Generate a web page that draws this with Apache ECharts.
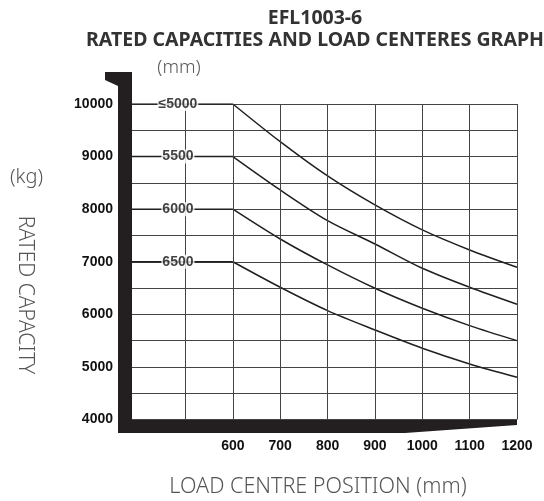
<!DOCTYPE html>
<html>
<head>
<meta charset="utf-8">
<script src="https://cdn.jsdelivr.net/npm/echarts@6/dist/echarts.min.js"></script>
<style>
  html, body { margin: 0; padding: 0; background: #fff; }
  #main { width: 544px; height: 501px; }
</style>
</head>
<body>
<div id="main"></div>
<script>
// 载荷中心 (mm)
var loadCentres = [600, 700, 800, 900, 1000, 1100, 1200];
// 门架高度 (mm)
var mastNames = ['≤5000', '5500', '6000', '6500'];
// 额定载荷 (kg)，每条曲线对应一个门架高度
var capMast5000 = [10000, 9283, 8631, 8080, 7605, 7224, 6895];
var capMast5500 = [9000, 8365, 7782, 7338, 6876, 6515, 6192];
var capMast6000 = [8000, 7433, 6939, 6496, 6116, 5786, 5500];
var capMast6500 = [7000, 6515, 6071, 5703, 5355, 5057, 4804];
var xTicks = [600, 700, 800, 900, 1000, 1100, 1200];
var xGridLines = [500, 600, 700, 800, 900, 1000, 1100, 1200];
var xStart = 387;      // 图表左边界
var labelX = 484;      // 门架标签位置

var curves = [capMast5000, capMast5500, capMast6000, capMast6500];

var myChart = echarts.init(document.getElementById('main'));

var lineColor = '#231f20';
var numFont = 'Liberation Sans';
var lightFont = 'Noto Sans';
var series = [];

curves.forEach(function (caps, i) {
    // 水平段
    series.push({
        name: mastNames[i] + '-flat',
        type: 'line',
        data: [[xStart, caps[0]], [loadCentres[0], caps[0]]],
        showSymbol: false,
        silent: true,
        z: 3,
        lineStyle: { color: lineColor, width: 1.5 }
    });
    // 曲线
    series.push({
        name: mastNames[i],
        type: 'line',
        smooth: 0.3,
        data: loadCentres.map(function (x, k) { return [x, caps[k]]; }),
        showSymbol: false,
        silent: true,
        z: 3,
        lineStyle: { color: lineColor, width: 1.5 }
    });
});

// 门架标签
series.push({
    type: 'scatter',
    symbolSize: 1,
    silent: true,
    z: 5,
    itemStyle: { color: 'rgba(0,0,0,0)' },
    data: curves.map(function (caps, i) { return { value: [labelX, caps[0]], name: mastNames[i] }; }),
    label: {
        show: true,
        position: 'inside',
        formatter: '{b}',
        fontFamily: numFont,
        fontWeight: 'bold',
        fontSize: 14,
        color: '#111',
        backgroundColor: '#fff',
        padding: [0, 1]
    }
});

// 竖向网格线
series.push({
    type: 'line',
    data: [],
    silent: true,
    markLine: {
        silent: true,
        symbol: 'none',
        animation: false,
        label: { show: false },
        lineStyle: { color: '#444', width: 1, type: 'solid' },
        data: xGridLines.map(function (v) { return { xAxis: v }; })
    }
});

var option = {
    animation: false,
    title: {
        text: 'EFL1003-6\nRATED CAPACITIES AND LOAD CENTERES GRAPH',
        left: 310,
        top: 2,
        textAlign: 'center',
        textStyle: {
            fontFamily: lightFont,
            fontWeight: 'bold',
            fontSize: 19.5,
            lineHeight: 22,
            color: '#333'
        }
    },
    grid: { left: 132, right: 27, top: 104, bottom: 81.5 },
    xAxis: {
        type: 'value',
        min: xStart,
        max: 1200,
        splitLine: { show: false },
        axisLine: { show: false },
        axisTick: { show: false },
        axisLabel: {
            customValues: xTicks,
            margin: 20,
            fontFamily: numFont,
            fontWeight: 'bold',
            fontSize: 14,
            color: '#111',
            formatter: function (v) { return String(v); }
        }
    },
    yAxis: {
        type: 'value',
        min: 4000,
        max: 10000,
        interval: 500,
        axisLine: { show: false },
        axisTick: { show: false },
        splitLine: { show: true, lineStyle: { color: '#444', width: 1 } },
        axisLabel: {
            margin: 19,
            fontFamily: numFont,
            fontWeight: 'bold',
            fontSize: 14,
            color: '#111',
            formatter: function (v) { return v % 1000 === 0 ? String(v) : ''; }
        }
    },
    graphic: [
        // 粗边框
        {
            type: 'polygon',
            z: 10,
            shape: { points: [[105, 72], [132, 72], [132, 420], [405, 420], [517, 420], [517, 425], [405, 433], [118, 433], [118, 86], [105, 80]] },
            style: { fill: '#231f20' }
        },
        {
            type: 'text', z: 10,
            position: [179, 68],
            style: { text: '(mm)', align: 'center', verticalAlign: 'middle', fontFamily: lightFont, fontWeight: 300, fontSize: 18.5, fill: '#555' }
        },
        {
            type: 'text', z: 10,
            position: [26.5, 177],
            style: { text: '(kg)', align: 'center', verticalAlign: 'middle', fontFamily: lightFont, fontWeight: 300, fontSize: 20, fill: '#555' }
        },
        {
            type: 'text', z: 10,
            position: [25, 295],
            rotation: -Math.PI / 2,
            style: { text: 'RATED CAPACITY', align: 'center', verticalAlign: 'middle', fontFamily: lightFont, fontWeight: 300, fontSize: 21, fill: '#555' }
        },
        {
            type: 'text', z: 10,
            position: [318, 487],
            style: { text: 'LOAD CENTRE POSITION (mm)', align: 'center', verticalAlign: 'middle', fontFamily: lightFont, fontWeight: 300, fontSize: 21.5, fill: '#555' }
        }
    ],
    series: series
};

myChart.setOption(option);
</script>
</body>
</html>
